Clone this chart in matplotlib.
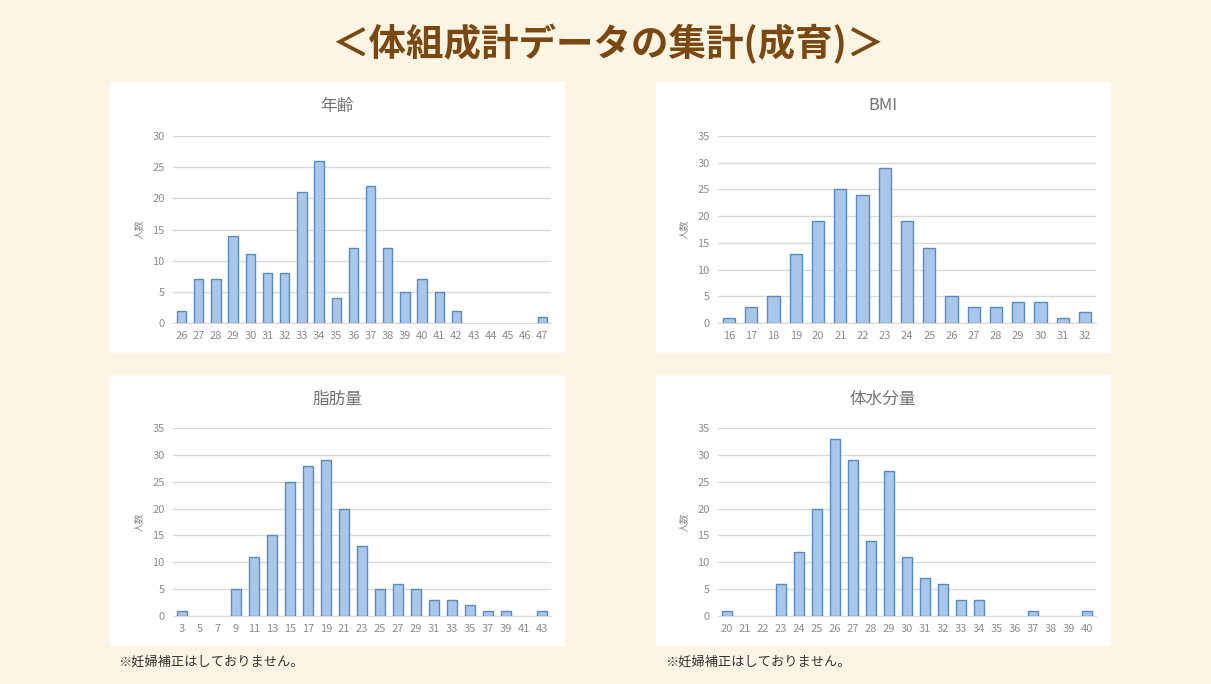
import matplotlib.pyplot as plt
from matplotlib.patches import Rectangle

plt.rcParams['font.family'] = ['Noto Sans CJK JP', 'DejaVu Sans']

age_labels = [str(i) for i in range(26, 48)]
age_counts = [2, 7, 7, 14, 11, 8, 8, 21, 26, 4, 12, 22, 12, 5, 7, 5, 2, 0, 0, 0, 0, 1]

bmi_labels = [str(i) for i in range(16, 33)]
bmi_counts = [1, 3, 5, 13, 19, 25, 24, 29, 19, 14, 5, 3, 3, 4, 4, 1, 2]

fat_labels = [str(i) for i in range(3, 44, 2)]
fat_counts = [1, 0, 0, 5, 11, 15, 25, 28, 29, 20, 13, 5, 6, 5, 3, 3, 2, 1, 1, 0, 1]

water_labels = [str(i) for i in range(20, 41)]
water_counts = [1, 0, 0, 6, 12, 20, 33, 29, 14, 27, 11, 7, 6, 3, 3, 0, 0, 1, 0, 0, 1]

W, H = 1211, 684
fig = plt.figure(figsize=(W / 100, H / 100), dpi=100)
fig.patch.set_facecolor('#FDF5E4')

def px(x, y, w, h):
    # pixel box (top-left origin) -> figure fraction
    return [x / W, 1 - (y + h) / H, w / W, h / H]

fig.text(608 / W, 1 - 44 / H, '＜体組成計データの集計(成育)＞', ha='center', va='center',
         fontsize=27, fontweight='bold', color='#7A4810')

panels = [
    ('年齢', age_labels, age_counts, 30, 110, 82, 173, 136, 323),
    ('BMI', bmi_labels, bmi_counts, 35, 656, 82, 718, 136, 323),
    ('脂肪量', fat_labels, fat_counts, 35, 110, 375, 173, 428, 616),
    ('体水分量', water_labels, water_counts, 35, 656, 375, 718, 428, 616),
]

for title, labels, counts, ymax, bx, by, ax_x, ax_top, ax_bot in panels:
    fig.patches.append(Rectangle((bx / W, 1 - (by + 271) / H), 455 / W, 271 / H,
                                 transform=fig.transFigure, facecolor='white',
                                 edgecolor='none', zorder=-5))
    ax = fig.add_axes(px(ax_x, ax_top, 378, ax_bot - ax_top))
    ax.set_facecolor('white')
    x = range(len(counts))
    edges = ['#5A8AC2' if c > 0 else 'none' for c in counts]
    ax.bar(x, counts, width=0.55, color='#A9C6EB', edgecolor=edges, linewidth=1.0, zorder=3)
    ax.set_xlim(-0.5, len(counts) - 0.5)
    ax.set_ylim(0, ymax)
    ax.set_yticks(range(0, ymax + 1, 5))
    ax.set_xticks(list(x))
    ax.set_xticklabels(labels)
    ax.tick_params(length=0, labelsize=8, colors='#8C8C8C', pad=6)
    ax.grid(axis='y', color='#D9D9D9', linewidth=1.0, zorder=0)
    for s in ['top', 'right', 'left']:
        ax.spines[s].set_visible(False)
    ax.spines['bottom'].set_color('#D9D9D9')
    ax.set_ylabel('人数', fontsize=7, color='#8C8C8C', labelpad=6)
    fig.text((bx + 227) / W, 1 - (by + 24) / H, title, ha='center', va='center',
             fontsize=12, color='#737373')

fig.text(118 / W, 1 - 662 / H, '※妊婦補正はしておりません。', ha='left', va='center',
         fontsize=9.5, color='#333333')
fig.text(665 / W, 1 - 662 / H, '※妊婦補正はしておりません。', ha='left', va='center',
         fontsize=9.5, color='#333333')

fig.savefig('out.png', dpi=100, facecolor=fig.get_facecolor())
